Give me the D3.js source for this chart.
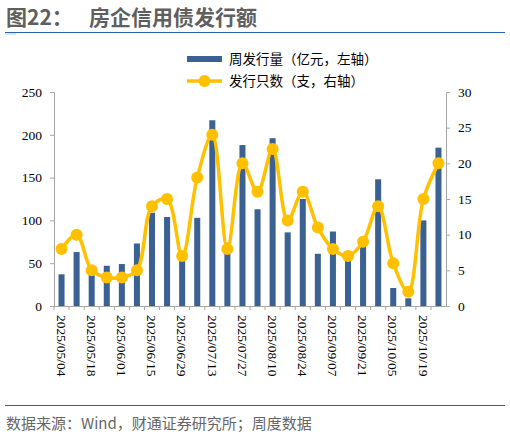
<!DOCTYPE html>
<html lang="zh">
<head>
<meta charset="utf-8" />
<script src="https://d3js.org/d3.v7.min.js"></script>
<style>
  body { margin: 0; background: #fff; }
  svg { display: block; }
  .serif text { font-family: "Liberation Serif", "Times New Roman", serif; }
</style>
</head>
<body>
<svg width="510" height="436"></svg>
<script>
// weekly dates (each bar)
var weeks = ["2025/05/04","2025/05/11","2025/05/18","2025/05/25","2025/06/01","2025/06/08",
  "2025/06/15","2025/06/22","2025/06/29","2025/07/06","2025/07/13","2025/07/20",
  "2025/07/27","2025/08/03","2025/08/10","2025/08/17","2025/08/24","2025/08/31",
  "2025/09/07","2025/09/14","2025/09/21","2025/09/28","2025/10/05","2025/10/12",
  "2025/10/19","2025/10/26"];
// 周发行量（亿元）
var amount = [37, 63, 39, 47, 49, 73, 109, 104, 57, 103, 217, 74, 188, 113, 196, 86,
  125, 61, 87, 56, 70, 148, 21, 9, 100, 185];
// 发行只数（支）
var count = [8, 10, 5, 4, 4, 5, 14, 15, 7, 18, 24, 8, 20, 16, 22, 12, 16, 11, 8, 7,
  9, 14, 6, 2, 15, 20];
var leftTicks = [0, 50, 100, 150, 200, 250];
var rightTicks = [0, 5, 10, 15, 20, 25, 30];

var svg = d3.select("svg");
var sans = "Noto Sans CJK SC, Noto Sans, sans-serif";

// title
svg.append("text").attr("x", 6).attr("y", 25)
  .attr("font-family", sans).attr("font-size", 21).attr("font-weight", "bold")
  .attr("fill", "#5f5f5f").text("图22：");
svg.append("text").attr("x", 89).attr("y", 25)
  .attr("font-family", sans).attr("font-size", 21).attr("font-weight", "bold")
  .attr("fill", "#5f5f5f").text("房企信用债发行额");
svg.append("line").attr("x1", 5).attr("x2", 505).attr("y1", 32.5).attr("y2", 32.5)
  .attr("stroke", "#2a62ad").attr("stroke-width", 1);
svg.append("rect").attr("x", 5).attr("y", 33).attr("width", 11).attr("height", 2)
  .attr("fill", "#dce6f2");

// scales
var x = d3.scaleBand().domain(weeks).range([54, 446]).paddingInner(0.6).paddingOuter(0.3);
var band = d3.scaleBand().domain(weeks).range([54, 446]);
var yL = d3.scaleLinear().domain([0, 250]).range([306, 92]);
var yR = d3.scaleLinear().domain([0, 30]).range([306, 92]);

// bars
svg.append("g").selectAll("rect").data(amount).enter().append("rect")
  .attr("x", function (d, i) { return x(weeks[i]); })
  .attr("width", x.bandwidth())
  .attr("y", function (d) { return yL(d); })
  .attr("height", function (d) { return yL(0) - yL(d); })
  .attr("fill", "#3b6192");

// axes
var gL = svg.append("g").attr("class", "serif").attr("transform", "translate(54,0)")
  .call(d3.axisLeft(yL).tickValues(leftTicks).tickSize(4).tickPadding(8));
var gR = svg.append("g").attr("class", "serif").attr("transform", "translate(446,0)")
  .call(d3.axisRight(yR).tickValues(rightTicks).tickSize(4).tickPadding(8));
[gL, gR].forEach(function (g) {
  g.attr("font-size", 13.5);
  g.select(".domain").attr("stroke", "#a6a6a6");
  g.selectAll(".tick line").attr("stroke", "#a6a6a6");
  g.selectAll("text").attr("fill", "#000");
});

// bottom axis line and ticks between weeks
svg.append("line").attr("x1", 54).attr("x2", 446).attr("y1", 306.5).attr("y2", 306.5)
  .attr("stroke", "#a6a6a6");
svg.append("g").selectAll("line").data(weeks).enter().append("line")
  .attr("x1", function (d) { return band(d); }).attr("x2", function (d) { return band(d); })
  .attr("y1", 306).attr("y2", 310).attr("stroke", "#a6a6a6");

// x labels every other week, rotated
svg.append("g").attr("class", "serif").attr("font-size", 13.5)
  .selectAll("text")
  .data(weeks.filter(function (d, i) { return i % 2 === 0; }))
  .enter().append("text")
  .attr("transform", function (d) {
    return "translate(" + (band(d) + band.bandwidth() / 2) + ",315) rotate(90)";
  })
  .attr("dy", "0.35em")
  .attr("fill", "#000")
  .text(function (d) { return d; });

// line
var line = d3.line()
  .x(function (d, i) { return band(weeks[i]) + band.bandwidth() / 2; })
  .y(function (d) { return yR(d); })
  .curve(d3.curveCatmullRom.alpha(0.5));
svg.append("path").datum(count).attr("d", line)
  .attr("fill", "none").attr("stroke", "#ffc000").attr("stroke-width", 3.5);
svg.append("g").selectAll("circle").data(count).enter().append("circle")
  .attr("cx", function (d, i) { return band(weeks[i]) + band.bandwidth() / 2; })
  .attr("cy", function (d) { return yR(d); })
  .attr("r", 6).attr("fill", "#ffc000");

// legend
var lg = svg.append("g").attr("font-family", sans).attr("font-size", 13.5).attr("fill", "#000");
lg.append("rect").attr("x", 187).attr("y", 56).attr("width", 35).attr("height", 6).attr("fill", "#3b6192");
lg.append("text").attr("x", 229).attr("y", 59).attr("dy", "0.35em").text("周发行量（亿元，左轴）");
lg.append("line").attr("x1", 187).attr("x2", 222).attr("y1", 81).attr("y2", 81)
  .attr("stroke", "#ffc000").attr("stroke-width", 3.5);
lg.append("circle").attr("cx", 204.5).attr("cy", 81).attr("r", 6).attr("fill", "#ffc000");
lg.append("text").attr("x", 229).attr("y", 81).attr("dy", "0.35em").text("发行只数（支，右轴）");

// footer
svg.append("line").attr("x1", 5).attr("x2", 505).attr("y1", 405.5).attr("y2", 405.5)
  .attr("stroke", "#2a62ad").attr("stroke-width", 1);
svg.append("text").attr("x", 6).attr("y", 429)
  .attr("font-family", sans).attr("font-size", 15).attr("fill", "#666")
  .text("数据来源：Wind，财通证券研究所；周度数据");
</script>
</body>
</html>
